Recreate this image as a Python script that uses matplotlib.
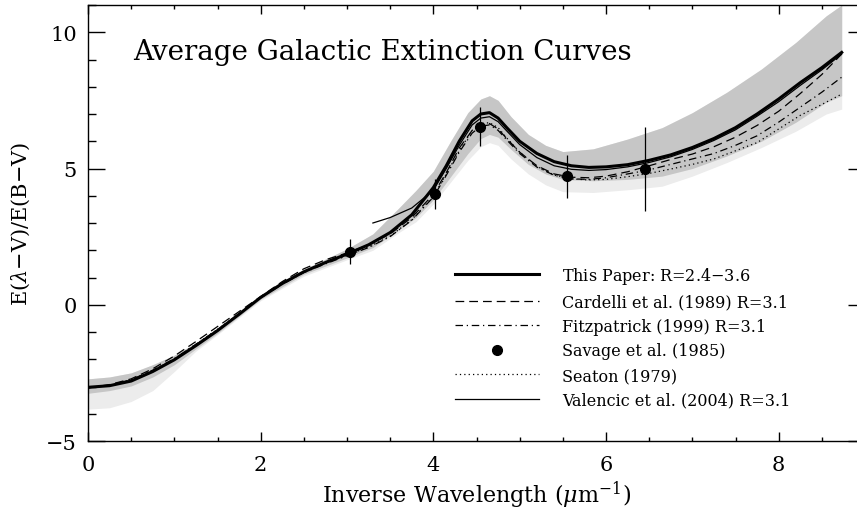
import numpy as np
import matplotlib
matplotlib.use('Agg')
import matplotlib.pyplot as plt
from matplotlib.lines import Line2D
from matplotlib.ticker import MultipleLocator

plt.rcParams['font.family'] = ['DejaVu Serif']
plt.rcParams['mathtext.fontset'] = 'dejavuserif'

# common wavelength grid (inverse microns) for the model curves
x_grid = [0, 0.25, 0.5, 0.75, 1.0, 1.25, 1.5, 1.75, 2.0, 2.25, 2.5, 2.75, 3.0,
          3.25, 3.5, 3.75, 4.0, 4.15, 4.3, 4.45, 4.55, 4.65, 4.75, 4.85, 5.0,
          5.2, 5.4, 5.6, 5.8, 6.0, 6.25, 6.5, 6.75, 7.0, 7.25, 7.5, 7.75, 8.0,
          8.25, 8.5, 8.73]

# This paper (thick)
y_paper = [-3.03, -2.97, -2.8, -2.45, -2.02, -1.5, -0.95, -0.35, 0.27, 0.78,
           1.21, 1.55, 1.86, 2.2, 2.65, 3.3, 4.3, 5.1, 6.0, 6.75, 7.0, 7.05,
           6.85, 6.5, 6.0, 5.55, 5.25, 5.1, 5.04, 5.06, 5.14, 5.3, 5.5, 5.77,
           6.1, 6.5, 7.0, 7.55, 8.15, 8.7, 9.26]

# Cardelli et al. (1989)
y_ccm = [-3.05, -2.93, -2.72, -2.35, -1.88, -1.35, -0.8, -0.25, 0.3, 0.85,
         1.32, 1.65, 1.9, 2.2, 2.6, 3.2, 4.05, 4.85, 5.75, 6.4, 6.62, 6.65,
         6.45, 6.1, 5.6, 5.1, 4.8, 4.68, 4.66, 4.72, 4.88, 5.1, 5.33, 5.53,
         5.8, 6.15, 6.58, 7.1, 7.75, 8.45, 9.2]

# Fitzpatrick (1999)
y_f99 = [-3.05, -2.95, -2.75, -2.4, -1.98, -1.45, -0.92, -0.35, 0.25, 0.75,
         1.18, 1.5, 1.8, 2.1, 2.5, 3.1, 3.95, 4.75, 5.6, 6.3, 6.55, 6.6, 6.4,
         6.05, 5.55, 5.05, 4.75, 4.62, 4.6, 4.66, 4.8, 4.95, 5.15, 5.35, 5.55,
         5.85, 6.2, 6.7, 7.25, 7.8, 8.35]

# Seaton (1979)
y_seaton = [-3.05, -2.96, -2.76, -2.42, -1.98, -1.45, -0.9, -0.33, 0.27, 0.77,
            1.2, 1.52, 1.82, 2.12, 2.52, 3.12, 3.98, 4.8, 5.65, 6.4, 6.65,
            6.68, 6.5, 6.12, 5.6, 5.08, 4.76, 4.62, 4.58, 4.6, 4.7, 4.82, 4.98,
            5.15, 5.35, 5.65, 5.95, 6.45, 6.95, 7.35, 7.73]

# Valencic et al. (2004), UV only
x_val = [3.3, 3.5, 3.75, 4.0, 4.15, 4.3, 4.45, 4.55, 4.65, 4.75, 4.85, 5.0,
         5.2, 5.4, 5.6, 5.8, 6.0, 6.25, 6.5, 6.75, 7.0, 7.25, 7.5, 7.75, 8.0,
         8.25, 8.5, 8.73]
y_val = [3.0, 3.2, 3.55, 4.2, 5.0, 5.85, 6.6, 6.85, 6.9, 6.72, 6.38, 5.88,
         5.4, 5.1, 4.97, 4.93, 4.96, 5.06, 5.22, 5.43, 5.7, 6.03, 6.42, 6.92,
         7.45, 8.05, 8.62, 9.2]

# Savage et al. (1985) points with error bars
x_sav = [3.03, 4.02, 4.54, 5.55, 6.45]
y_sav = [1.95, 4.06, 6.54, 4.71, 4.98]
err_sav = [0.45, 0.55, 0.71, 0.8, 1.54]

# shaded ranges (R = 2.4 - 3.6)
x_band = [0, 0.25, 0.5, 0.75, 1.0, 1.25, 1.5, 2.0, 2.5, 3.0, 3.3, 3.6, 3.8,
          4.0, 4.2, 4.4, 4.55, 4.65, 4.75, 4.9, 5.1, 5.3, 5.5, 5.85, 6.25,
          6.65, 7.0, 7.4, 7.8, 8.2, 8.55, 8.73]
dark_hi = [-2.72, -2.65, -2.5, -2.2, -1.85, -1.4, -0.85, 0.35, 1.3, 2.05,
           2.6, 3.55, 4.2, 4.9, 6.0, 7.05, 7.55, 7.67, 7.5, 6.9, 6.25, 5.85,
           5.62, 5.72, 6.08, 6.5, 7.05, 7.8, 8.65, 9.63, 10.6, 11.0]
dark_lo = [-3.25, -3.15, -2.98, -2.65, -2.2, -1.62, -1.05, 0.2, 1.12, 1.72,
           2.1, 2.75, 3.2, 3.85, 4.7, 5.55, 6.1, 6.25, 6.15, 5.7, 5.15, 4.8,
           4.6, 4.55, 4.6, 4.72, 5.0, 5.46, 6.0, 6.7, 7.43, 7.67]
light_lo = [-3.83, -3.78, -3.55, -3.15, -2.45, -1.7, -1.1, 0.15, 1.05, 1.65,
            2.0, 2.65, 3.05, 3.7, 4.5, 5.3, 5.8, 5.95, 5.85, 5.35, 4.8, 4.4,
            4.15, 4.12, 4.22, 4.35, 4.72, 5.22, 5.77, 6.37, 7.0, 7.18]

fig = plt.figure(figsize=(8.57, 5.10), dpi=100)
ax = fig.add_axes([88 / 857, 68 / 510, 777 / 857, 436 / 510])

ax.fill_between(x_band, light_lo, dark_hi, color='#ececec', lw=0)
ax.fill_between(x_band, dark_lo, dark_hi, color='#c6c6c6', lw=0)

ax.plot(x_grid, y_ccm, color='k', lw=0.9, dashes=(7, 4))
ax.plot(x_grid, y_f99, color='k', lw=0.9, dashes=(6, 3, 1, 3))
ax.plot(x_grid, y_seaton, color='k', lw=0.9, dashes=(1, 2.5))
ax.plot(x_val, y_val, color='k', lw=0.9)
ax.plot(x_grid, y_paper, color='k', lw=2.2)
ax.errorbar(x_sav, y_sav, yerr=err_sav, fmt='o', color='k', ms=7,
            elinewidth=0.9, capsize=0)

ax.set_xlim(0, 9)
ax.set_ylim(-5, 11)
ax.xaxis.set_major_locator(MultipleLocator(2))
ax.xaxis.set_minor_locator(MultipleLocator(0.5))
ax.yaxis.set_major_locator(MultipleLocator(5))
ax.yaxis.set_minor_locator(MultipleLocator(1))
ax.tick_params(axis='both', which='both', direction='in', top=True,
               right=True, labelsize=15, width=1.0)
ax.tick_params(axis='x', which='major', length=6.5, pad=10)
ax.tick_params(axis='x', which='minor', length=3)
ax.tick_params(axis='y', which='major', length=12, pad=8)
ax.tick_params(axis='y', which='minor', length=6)
for s in ax.spines.values():
    s.set_linewidth(1.0)

ax.set_xlabel(r'Inverse Wavelength ($\mu$m$^{-1}$)', fontsize=16, labelpad=3)
ax.set_ylabel(r'E($\lambda$$-$V)/E(B$-$V)', fontsize=15, labelpad=10)

ax.text(0.058, 0.894, 'Average Galactic Extinction Curves', fontsize=20,
        transform=ax.transAxes, va='center', ha='left')

handles = [
    Line2D([], [], color='k', lw=2.2),
    Line2D([], [], color='k', lw=0.9, dashes=(7, 4)),
    Line2D([], [], color='k', lw=0.9, dashes=(6, 3, 1, 3)),
    Line2D([], [], color='k', ls='none', marker='o', ms=7),
    Line2D([], [], color='k', lw=0.9, dashes=(1, 2.5)),
    Line2D([], [], color='k', lw=0.9),
]
labels = ['This Paper: R=2.4$-$3.6', 'Cardelli et al. (1989) R=3.1',
          'Fitzpatrick (1999) R=3.1', 'Savage et al. (1985)',
          'Seaton (1979)', 'Valencic et al. (2004) R=3.1']
ax.legend(handles, labels, loc='upper left', bbox_to_anchor=(0.472, 0.404),
          frameon=False, fontsize=11.5, handlelength=5.3, handletextpad=1.4,
          labelspacing=0.47, borderpad=0, borderaxespad=0)

fig.savefig('out.png', dpi=100)
